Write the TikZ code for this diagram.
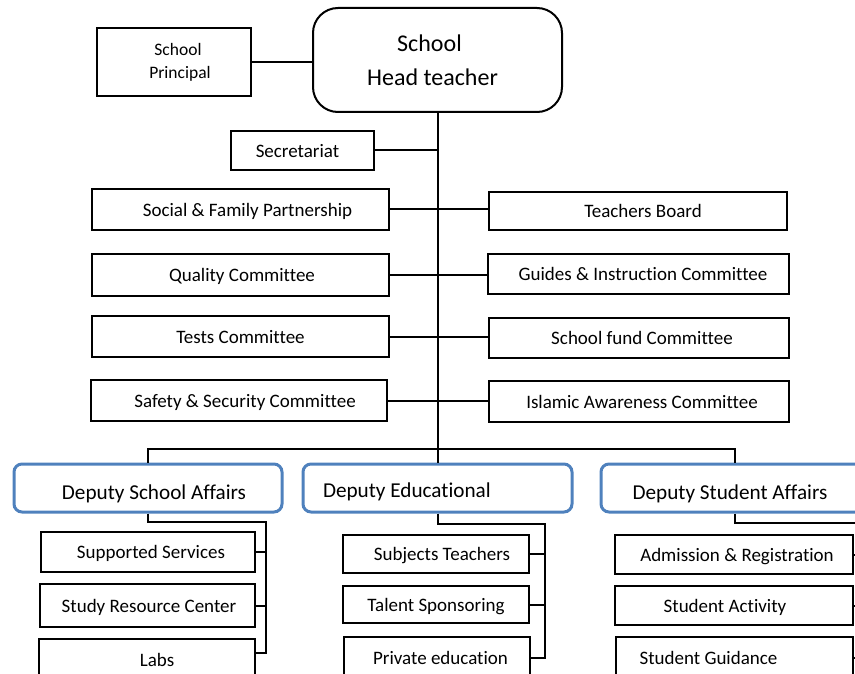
\documentclass[tikz,border=0pt]{standalone}
\usepackage{fontspec}
\setmainfont{Carlito}[Ligatures=NoCommon]
\definecolor{depblue}{RGB}{79,129,189}
\begin{document}
\begin{tikzpicture}[x=1pt,y=-1pt,
  box/.style={draw=black,line width=2pt,inner sep=0pt,
    font=\fontsize{19}{22}\selectfont,text height=16pt,text depth=2.5pt},
  head/.style={draw=black,line width=2pt,rounded corners=25pt,inner sep=0pt,align=center,
    font=\fontsize{24}{34}\selectfont},
  deputy/.style={draw=depblue,line width=3pt,rounded corners=8pt,inner sep=0pt,
    minimum width=268pt,minimum height=48pt,font=\fontsize{21.2}{24}\selectfont,
    text height=24pt,text depth=2pt},
  conn/.style={draw=black,line width=2pt}]
\useasboundingbox (0,0) rectangle (855,674);
\clip (0,0) rectangle (855,674);

% top
\node[head,minimum width=249pt,minimum height=104pt] (head) at (437.5,60) {School\hspace*{16pt}\\Head teacher\hspace*{10pt}};
\node[box,minimum width=154pt,minimum height=68pt,align=center,font=\fontsize{17.5}{23}\selectfont,text height=,text depth=] (princ) at (174,62) {\hspace*{8pt}School\\\hspace*{12pt}Principal};
\node[box,minimum width=143pt,minimum height=39pt] (sec) at (302.5,150.5) {Secretariat\hspace*{10pt}};

% committees left
\node[box,minimum width=297pt,minimum height=41pt] (social) at (240.5,209.5) {\hspace*{14pt}Social \& Family Partnership};
\node[box,minimum width=297pt,minimum height=42pt] (quality) at (240.5,275) {\hspace*{3pt}Quality Committee};
\node[box,minimum width=297pt,minimum height=41pt] (tests) at (240.5,336.5) {Tests Committee};
\node[box,minimum width=296pt,minimum height=41pt] (safety) at (239,400.5) {\hspace*{12pt}Safety \& Security Committee};

% committees right
\node[box,minimum width=298pt,minimum height=38pt] (teachers) at (638,211) {\hspace*{10pt}Teachers Board};
\node[box,minimum width=301pt,minimum height=40pt] (guides) at (638.5,274) {\hspace*{9pt}Guides \& Instruction Committee};
\node[box,minimum width=300pt,minimum height=40pt] (fund) at (639,338) {\hspace*{6pt}School fund Committee};
\node[box,minimum width=300pt,minimum height=41pt] (islamic) at (639,401.5) {\hspace*{6pt}Islamic Awareness Committee};

% deputies
\node[deputy] (dsa) at (148,488) {\hspace*{12pt}Deputy School Affairs};
\node[deputy,minimum width=269pt,inner xsep=20pt,text height=20pt] (ded) at (437.5,488) {\makebox[229pt][l]{Deputy Educational}};
\node[deputy] (dst) at (735,488) {Deputy Student Affairs\hspace*{10pt}};

% school affairs units
\node[box,minimum width=214pt,minimum height=40pt] (supp) at (148,552) {\hspace*{6pt}Supported Services};
\node[box,minimum width=215pt,minimum height=43pt] (study) at (147.5,605.5) {\hspace*{3pt}Study Resource Center};
\node[box,minimum width=216pt,minimum height=42pt] (labs) at (147,660) {\hspace*{20pt}Labs};

% educational units
\node[box,minimum width=186pt,minimum height=38pt] (subj) at (436,554) {\hspace*{12pt}Subjects Teachers};
\node[box,minimum width=186pt,minimum height=37pt] (talent) at (436,604.5) {Talent Sponsoring};
\node[box,minimum width=186pt,minimum height=42pt] (priv) at (437,658) {\hspace*{7pt}Private education};

% student units
\node[box,minimum width=238pt,minimum height=39pt] (adm) at (734,554.5) {\hspace*{6pt}Admission \& Registration};
\node[box,minimum width=238pt,minimum height=39pt] (act) at (734,605.5) {Student Activity\hspace*{18pt}};
\node[box,minimum width=237pt,minimum height=42pt] (guid) at (734.5,658) {Student Guidance\hspace*{52pt}};

% connector points
\coordinate (bar) at (437.5,449);
\coordinate (sa1) at (266,522);
\coordinate (sa2) at (266,653);
\coordinate (ed1) at (545,524);
\coordinate (ed2) at (545,658);
\coordinate (st1) at (866,523);
\coordinate (st2) at (866,658);

% connectors
\draw[conn] (princ.east) -- (princ.east -| head.west);
\draw[conn] (head.south) -- (ded.north);
\draw[conn] (sec.east) -- (sec.east -| head.south);
\draw[conn] (social.east) -- (teachers.west |- social.east);
\draw[conn] (quality.east) -- (guides.west |- quality.east);
\draw[conn] (tests.east) -- (fund.west |- tests.east);
\draw[conn] (safety.east) -- (islamic.west |- safety.east);
\draw[conn] (dsa.north) |- (bar) -| (dst.north);

\draw[conn] (dsa.south) |- (sa1) -- (sa2) -- (sa2 -| labs.east);
\draw[conn] (supp.east) -- (supp.east -| sa1);
\draw[conn] (study.east) -- (study.east -| sa1);

\draw[conn] (ded.south) |- (ed1) -- (ed2) -- (priv.east);
\draw[conn] (subj.east) -- (subj.east -| ed1);
\draw[conn] (talent.east) -- (talent.east -| ed1);

\draw[conn] (dst.south) |- (st1) -- (st2) -- (guid.east);
\draw[conn] (adm.east) -- (adm.east -| st1);
\draw[conn] (act.east) -- (act.east -| st1);
\end{tikzpicture}
\end{document}
